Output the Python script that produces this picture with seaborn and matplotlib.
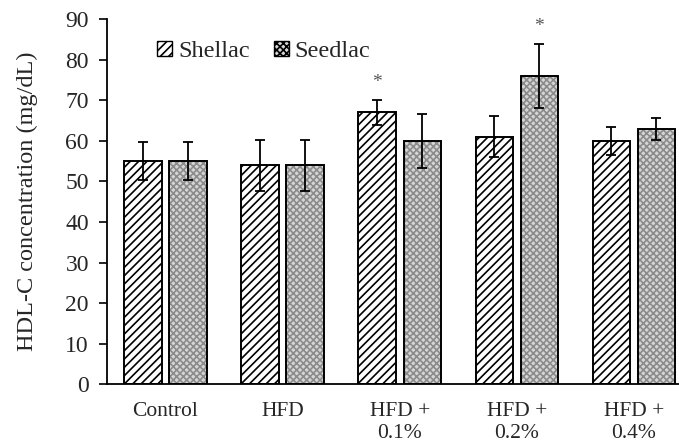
import pandas as pd
import numpy as np
import matplotlib
matplotlib.use("Agg")
import matplotlib.pyplot as plt
import seaborn as sns
from matplotlib.patches import Patch, Rectangle

# values
groups = ["Control", "HFD", "HFD +\n0.1%", "HFD +\n0.2%", "HFD +\n0.4%"]
shellac = [55, 54, 67, 61, 60]
seedlac = [55, 54, 60, 76, 63]
shellac_err = [4.7, 6.3, 3.0, 5.0, 3.5]
seedlac_err = [4.7, 6.3, 6.6, 7.9, 2.7]
# significance marks: (series, group index)
signif = [("Shellac", 2), ("Seedlac", 3)]

df = pd.DataFrame({
    "Group": groups * 2,
    "Extract": ["Shellac"] * 5 + ["Seedlac"] * 5,
    "HDL": shellac + seedlac,
    "Err": shellac_err + seedlac_err,
})

sns.set_style("ticks")
plt.rcParams["font.family"] = ["Liberation Serif", "DejaVu Serif"]
plt.rcParams["hatch.linewidth"] = 1.2

fig = plt.figure(figsize=(6.79, 4.45), dpi=100)
ax = fig.add_axes([0.1576, 0.1364, 0.8424, 0.8209])

sns.barplot(data=df, x="Group", y="HDL", hue="Extract", order=groups,
            hue_order=["Shellac", "Seedlac"], width=0.77, gap=0.17,
            errorbar=None, legend=False, ax=ax)

# hatch colour follows the edge colour, so the black outline is drawn on top
styles = {
    "Shellac": dict(face="white", hatch="////", hcol="black"),
    "Seedlac": dict(face="#d6d6d6", hatch="xxxxx", hcol="#8c8c8c"),
}
names = ["Shellac", "Seedlac"]
for name, cont in zip(names, ax.containers):
    st = styles[name]
    sub = df[df["Extract"] == name].reset_index(drop=True)
    xs = []
    for bar in cont:
        bar.set_facecolor(st["face"])
        bar.set_edgecolor(st["hcol"])
        bar.set_linewidth(0)
        bar.set_hatch(st["hatch"])
        ax.add_patch(Rectangle(bar.get_xy(), bar.get_width(), bar.get_height(),
                               fill=False, edgecolor="black", linewidth=1.4, zorder=3))
        xs.append(bar.get_x() + bar.get_width() / 2)
    ax.errorbar(xs, sub["HDL"], yerr=sub["Err"], fmt="none", ecolor="black",
                elinewidth=1.3, capsize=3.5, capthick=1.3, zorder=5)
    for s, i in signif:
        if s == name:
            ax.text(xs[i], sub["HDL"][i] + sub["Err"][i] + 2.2, "*",
                    ha="center", va="bottom", fontsize=14, color="#555555")

ax.set_ylim(0, 90)
ax.set_yticks(np.arange(0, 91, 10))
ax.set_xlim(-0.5, 4.385)
ax.set_xlabel("")
ax.set_ylabel("HDL-C concentration (mg/dL)", fontsize=17.5, labelpad=20)
ax.tick_params(axis="y", labelsize=17, length=6, width=1.2, color="black", pad=7)
ax.tick_params(axis="x", labelsize=15.5, length=0, pad=13)
for lab in ax.get_xticklabels():
    lab.set_linespacing(1.2)
sns.despine(ax=ax)
ax.spines["left"].set_linewidth(1.3)
ax.spines["bottom"].set_linewidth(1.3)
ax.spines["left"].set_color("black")
ax.spines["bottom"].set_color("black")

handles = []
for name in names:
    st = styles[name]
    h = Patch(facecolor=st["face"], edgecolor="black", hatch=st["hatch"], label=name)
    handles.append(h)
leg = ax.legend(handles=handles, loc="center left", bbox_to_anchor=(0.05, 0.912),
                ncol=2, frameon=False, fontsize=17.5, handlelength=0.6,
                handleheight=0.6, handletextpad=0.25, columnspacing=1.0)

fig.savefig("out.png", dpi=100)
